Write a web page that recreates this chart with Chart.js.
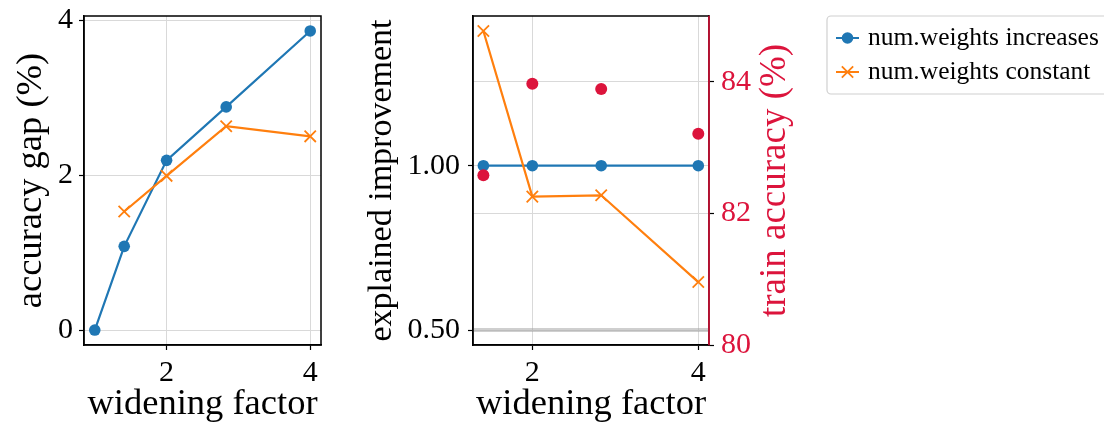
<!DOCTYPE html>
<html>
<head>
<meta charset="utf-8">
<script src="https://cdn.jsdelivr.net/npm/chart.js@4.4.1/dist/chart.umd.min.js"></script>
<style>
    html, body { margin: 0; padding: 0; background: #ffffff; }
    body { width: 1104px; height: 427px; position: relative; overflow: hidden; }
    canvas { position: absolute; top: 0; }
    #gap-chart { left: 0; }
    #explained-chart { left: 360px; }
</style>
</head>
<body>
<canvas id="gap-chart" width="340" height="427"></canvas>
<canvas id="explained-chart" width="744" height="427"></canvas>
<script>
// widening factor (x axis, both panels)
const widening = [1, 1.41, 2, 2.83, 4]
const wideningRight = [1.41, 2, 2.83, 4]
const xTicks = [2, 4]

// left panel: accuracy gap (%)
const gapIncreases = [0, 1.08, 2.19, 2.88, 3.86]
const gapConstant = [null, 1.53, 1.99, 2.63, 2.50]
const gapTicks = [0, 2, 4]

// right panel: explained improvement + train accuracy (%)
const explainedIncreases = [1.00, 1.00, 1.00, 1.00]
const explainedConstant = [1.41, 0.906, 0.91, 0.646]
const explainedTicks = [0.5, 1.0]
const baseline = 0.5
const trainAccuracy = [82.58, 83.97, 83.89, 83.21]
const accuracyTicks = [80, 82, 84]

const seriesLabels = ['num.weights increases', 'num.weights constant']

const BLUE = '#1f77b4'
const ORANGE = '#ff7f0e'
const CRIMSON = '#dc143c'
const GRID = '#d9d9d9'
const FONT = 'Liberation Serif'

Chart.defaults.font.family = FONT
Chart.defaults.color = '#000'

const pairs = (xs, ys) => xs.map((x, i) => ({ x: x, y: ys[i] }))
const fixTicks = values => scale => { scale.ticks = values.map(v => ({ value: v })) }
// fixed axis size, and no extra room asked for the end labels
const fixWidth = w => s => { s.width = w; s.paddingTop = 0; s.paddingBottom = 0 }
const fixHeight = h => s => { s.height = h; s.paddingLeft = 0; s.paddingRight = 0 }

// black box round the plot area, right side can be coloured
const frame = {
    id: 'frame',
    afterDatasetsDraw(chart, args, opts) {
        const { left, top, right, bottom } = chart.chartArea
        const ctx = chart.ctx
        ctx.save()
        ctx.lineWidth = 1.5
        ctx.strokeStyle = '#000'
        ctx.strokeRect(left, top, right - left, bottom - top)
        if (opts.rightColor) {
            ctx.strokeStyle = opts.rightColor
            ctx.beginPath()
            ctx.moveTo(right, top)
            ctx.lineTo(right, bottom)
            ctx.stroke()
        }
        ctx.restore()
    }
}

// horizontal reference line across the plot (like axhline)
const refLine = {
    id: 'refLine',
    beforeDatasetsDraw(chart, args, opts) {
        if (opts.value === undefined) return
        const y = chart.scales.y.getPixelForValue(opts.value)
        const { left, right } = chart.chartArea
        const ctx = chart.ctx
        ctx.save()
        ctx.lineWidth = 4
        ctx.strokeStyle = 'rgba(160,160,160,0.5)'
        ctx.beginPath()
        ctx.moveTo(left, y)
        ctx.lineTo(right, y)
        ctx.stroke()
        ctx.restore()
    }
}

// right axis title reading bottom-to-top, as matplotlib does it
const rightTitle = {
    id: 'rightTitle',
    afterDraw(chart, args, opts) {
        if (!opts.text) return
        const scale = chart.scales.y2
        const { top, bottom } = chart.chartArea
        const ctx = chart.ctx
        ctx.save()
        ctx.translate(scale.left + opts.offset, (top + bottom) / 2)
        ctx.rotate(-Math.PI / 2)
        ctx.font = opts.size + 'px "' + FONT + '"'
        ctx.fillStyle = opts.color
        ctx.textAlign = 'center'
        ctx.textBaseline = 'middle'
        ctx.fillText(opts.text, 0, 0)
        ctx.restore()
    }
}

// boxed legend to the right, built from labelled datasets
const sideLegend = {
    id: 'sideLegend',
    afterDraw(chart, args, opts) {
        if (!opts.display) return
        const ctx = chart.ctx
        const items = chart.data.datasets.filter(d => d.label)
        ctx.save()
        ctx.lineWidth = 1.2
        ctx.strokeStyle = '#d0d0d0'
        ctx.fillStyle = '#fff'
        ctx.beginPath()
        ctx.roundRect(opts.x, opts.y, opts.width, opts.rowHeight * items.length + opts.pad * 2, 4)
        ctx.fill()
        ctx.stroke()
        ctx.font = opts.size + 'px "' + FONT + '"'
        ctx.textBaseline = 'middle'
        items.forEach((d, i) => {
            const cy = opts.y + opts.pad + opts.rowHeight * (i + 0.5)
            const x0 = opts.x + 9
            const x1 = x0 + 23
            const cx = (x0 + x1) / 2
            ctx.strokeStyle = d.borderColor
            ctx.lineWidth = 2
            ctx.beginPath()
            ctx.moveTo(x0, cy)
            ctx.lineTo(x1, cy)
            ctx.stroke()
            ctx.fillStyle = d.borderColor
            if (d.pointStyle === 'circle') {
                ctx.beginPath()
                ctx.arc(cx, cy, d.pointRadius, 0, Math.PI * 2)
                ctx.fill()
            } else {
                ctx.lineWidth = d.pointBorderWidth
                Chart.helpers.drawPoint(ctx, { pointStyle: d.pointStyle, radius: d.pointRadius, borderWidth: d.pointBorderWidth }, cx, cy)
            }
            ctx.fillStyle = '#000'
            ctx.fillText(d.label, opts.x + 41, cy)
        })
        ctx.restore()
    }
}

Chart.register(frame, refLine, rightTitle, sideLegend)

const tickFont = { size: 30, lineHeight: 1 }
const titleFont = { size: 36.5, lineHeight: 1 }

function xAxis(min, max) {
    return {
        type: 'linear',
        min: min,
        max: max,
        afterFit: fixHeight(82),
        afterBuildTicks: fixTicks(xTicks),
        grid: { color: GRID, tickColor: '#000', tickLength: 5, tickWidth: 1.2 },
        border: { color: '#000', width: 1.5 },
        ticks: { font: tickFont, padding: 8, maxRotation: 0 },
        title: { display: true, text: 'widening factor', font: titleFont, padding: { top: 0, bottom: 4 } }
    }
}

const gapChart = new Chart(document.getElementById('gap-chart'), {
    type: 'line',
    data: {
        datasets: [{
            label: seriesLabels[0],
            data: pairs(widening, gapIncreases),
            borderColor: BLUE,
            backgroundColor: BLUE,
            borderWidth: 2.2,
            pointStyle: 'circle',
            pointRadius: 5.8,
            pointBorderWidth: 0,
            order: 2
        }, {
            label: seriesLabels[1],
            data: pairs(widening, gapConstant),
            borderColor: ORANGE,
            backgroundColor: ORANGE,
            borderWidth: 2.2,
            pointStyle: 'crossRot',
            pointRadius: 8,
            pointBorderWidth: 1.8,
            order: 1
        }]
    },
    options: {
        responsive: false,
        animation: false,
        layout: { padding: { top: 16, right: 19, left: 0, bottom: 0 } },
        plugins: {
            legend: { display: false },
            tooltip: { enabled: false }
        },
        scales: {
            x: xAxis(0.85, 4.15),
            y: {
                min: -0.193,
                max: 4.053,
                afterFit: fixWidth(84),
                afterBuildTicks: fixTicks(gapTicks),
                grid: { color: GRID, tickColor: '#000', tickLength: 5, tickWidth: 1.2 },
                border: { color: '#000', width: 1.5 },
                ticks: { font: tickFont, padding: 6 },
                title: { display: true, text: 'accuracy gap (%)', font: titleFont, padding: { top: 13, bottom: 0 } }
            }
        }
    }
})

const explainedChart = new Chart(document.getElementById('explained-chart'), {
    type: 'line',
    data: {
        datasets: [{
            label: seriesLabels[0],
            data: pairs(wideningRight, explainedIncreases),
            borderColor: BLUE,
            backgroundColor: BLUE,
            borderWidth: 2.2,
            pointStyle: 'circle',
            pointRadius: 5.8,
            pointBorderWidth: 0,
            yAxisID: 'y',
            order: 2
        }, {
            label: seriesLabels[1],
            data: pairs(wideningRight, explainedConstant),
            borderColor: ORANGE,
            backgroundColor: ORANGE,
            borderWidth: 2.2,
            pointStyle: 'crossRot',
            pointRadius: 8,
            pointBorderWidth: 1.8,
            yAxisID: 'y',
            order: 1
        }, {
            data: pairs(wideningRight, trainAccuracy),
            showLine: false,
            borderColor: CRIMSON,
            backgroundColor: CRIMSON,
            pointStyle: 'circle',
            pointRadius: 6,
            pointBorderWidth: 0,
            yAxisID: 'y2',
            order: 0
        }]
    },
    options: {
        responsive: false,
        animation: false,
        layout: { padding: { top: 16, right: 284, left: 0, bottom: 0 } },
        plugins: {
            legend: { display: false },
            tooltip: { enabled: false },
            frame: { rightColor: CRIMSON },
            refLine: { value: baseline },
            rightTitle: { text: 'train accuracy (%)', color: CRIMSON, size: 37, offset: 66 },
            sideLegend: { display: true, x: 467, y: 16, width: 300, rowHeight: 34, pad: 5, size: 25.5 }
        },
        scales: {
            x: xAxis(1.285, 4.129),
            y: {
                position: 'left',
                min: 0.4545,
                max: 1.4555,
                afterFit: fixWidth(113),
                afterBuildTicks: fixTicks(explainedTicks),
                grid: { color: GRID, tickColor: '#000', tickLength: 5, tickWidth: 1.2 },
                border: { color: '#000', width: 1.5 },
                ticks: { font: tickFont, padding: 8, callback: v => v.toFixed(2) },
                title: { display: true, text: 'explained improvement', font: { size: 34, lineHeight: 1 }, padding: { top: 5, bottom: 0 } }
            },
            y2: {
                position: 'right',
                min: 80,
                max: 85,
                afterFit: fixWidth(111),
                afterBuildTicks: fixTicks(accuracyTicks),
                grid: { color: GRID, tickColor: '#000', tickLength: 5, tickWidth: 1.2 },
                border: { color: CRIMSON, width: 1.5 },
                ticks: { font: tickFont, padding: 7, color: CRIMSON }
            }
        }
    }
})
</script>
</body>
</html>
